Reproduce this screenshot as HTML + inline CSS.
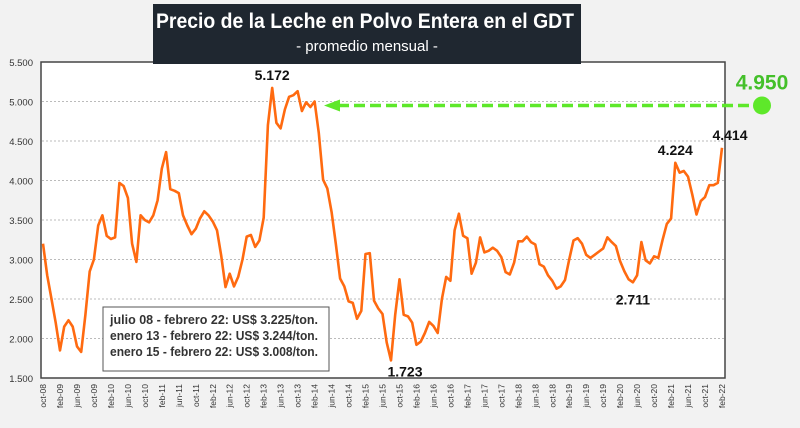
<!DOCTYPE html>
<html><head><meta charset="utf-8"><style>
body{margin:0;background:#f2f2f2;font-family:"Liberation Sans",sans-serif}
svg{display:block}
</style></head><body>
<svg id="c" width="800" height="428" viewBox="0 0 800 428">
<rect x="0" y="0" width="800" height="428" fill="#f2f2f2"/>
<rect x="41" y="62" width="684" height="316" fill="#fff" stroke="#444" stroke-width="1.5"/>
<g id="grid"></g><g id="yt"></g><g id="xt"></g>
<g>
<rect x="153" y="4" width="428" height="60" fill="#1f2730"/>
<text x="156" y="28" textLength="418" lengthAdjust="spacingAndGlyphs" fill="#fff" font-size="21" font-weight="bold">Precio de la Leche en Polvo Entera en el GDT</text>
<text x="367" y="51" text-anchor="middle" fill="#fff" font-size="15">- promedio mensual -</text>
</g>
<path id="ln" fill="none" stroke="#ff6a10" stroke-width="2.6" stroke-linejoin="round"/>
<g id="target"></g>
<g id="ann"></g>
<g>
<rect x="103" y="307" width="226" height="64" fill="#fff" stroke="#555" stroke-width="1"/>
<text x="110" y="324" textLength="208" lengthAdjust="spacingAndGlyphs" font-size="12.5" font-weight="bold" fill="#333">julio 08 - febrero 22: US$ 3.225/ton.</text>
<text x="110" y="340" textLength="208" lengthAdjust="spacingAndGlyphs" font-size="12.5" font-weight="bold" fill="#333">enero 13 - febrero 22: US$ 3.244/ton.</text>
<text x="110" y="356" textLength="208" lengthAdjust="spacingAndGlyphs" font-size="12.5" font-weight="bold" fill="#333">enero 15 - febrero 22: US$ 3.008/ton.</text>
</g>
</svg>
<script>
const prices=[3200,2800,2500,2200,1850,2150,2230,2150,1900,1830,2300,2850,3000,3430,3560,3300,3260,3280,3970,3930,3780,3200,2970,3560,3500,3470,3560,3750,4150,4360,3890,3870,3840,3560,3430,3320,3390,3520,3610,3560,3480,3370,3050,2650,2820,2660,2780,3000,3290,3310,3160,3240,3530,4700,5172,4730,4660,4900,5060,5080,5130,4880,4990,4930,5000,4600,4010,3900,3600,3200,2760,2660,2470,2450,2250,2350,3070,3080,2480,2380,2310,1950,1723,2300,2750,2300,2280,2200,1920,1960,2070,2210,2160,2070,2500,2780,2730,3370,3580,3300,3270,2820,2960,3280,3090,3110,3150,3110,3030,2840,2810,2960,3230,3230,3290,3220,3190,2940,2910,2800,2730,2630,2660,2740,3000,3240,3270,3200,3060,3020,3060,3100,3140,3280,3220,3170,2980,2850,2750,2711,2800,3220,2990,2950,3040,3020,3250,3450,3520,4224,4100,4120,4050,3820,3570,3740,3790,3940,3940,3970,4414];
const yTicks=[1500,2000,2500,3000,3500,4000,4500,5000,5500];
const monthNames=["oct","feb","jun"];
const startYear=8;
const target=[4950];
const annIdx=[54,82,139,149,160];
const ns="http://www.w3.org/2000/svg";
const X=i=>43+i*(722-43)/160;
const Y=v=>378-(v-1500)*316/4000;
function mk(t,a,p,txt){const e=document.createElementNS(ns,t);for(const k in a)e.setAttribute(k,a[k]);if(txt!=null)e.textContent=txt;p.appendChild(e);return e;}
const g=document.getElementById('grid'),yt=document.getElementById('yt'),xt=document.getElementById('xt');
yTicks.forEach(v=>{
 if(v>1500&&v<5500){const l=mk('line',{x1:42,x2:724,y1:Y(v),y2:Y(v),stroke:'#bbb','stroke-dasharray':'2,2'},g);
 
 }
 const t=mk('text',{x:33,y:Y(v)+4,'text-anchor':'end','font-size':'9.5',fill:'#333'},yt,(v/1000).toFixed(3));
 
 
});
for(let i=0;i<prices.length;i+=4){
 const m=(i/4)%3;const yr=startYear+Math.floor((i+9)/12);
 const lab=monthNames[m]+'-'+String(yr).padStart(2,'0');
 const x=X(i);
 const t=mk('text',{x:0,y:0,transform:`translate(${x+3},384) rotate(-90)`,'text-anchor':'end','font-size':'8.5',fill:'#333'},xt,lab);
 
 
}
document.getElementById('ln').setAttribute('d',prices.map((v,i)=>(i?'L':'M')+X(i).toFixed(1)+','+Y(v).toFixed(1)).join(''));
const tg=document.getElementById('target');
const ty=Y(target[0]);
const tl=mk('line',{x1:338,x2:755,y1:ty,y2:ty,stroke:'#5ee82a','stroke-width':3.5,'stroke-dasharray':'11,5'},tg);


const ar=mk('polygon',{points:`324,${ty} 340,${ty-6} 340,${ty+6}`,fill:'#5ee82a'},tg);


const cc=mk('circle',{cx:762,cy:ty,r:9,fill:'#5ee82a'},tg);


const tt=mk('text',{x:762,y:ty-16,'text-anchor':'middle','font-size':'21','font-weight':'bold',fill:'#44c02a'},tg,(target[0]/1000).toFixed(3));


const an=document.getElementById('ann');
annIdx.forEach(i=>{
 const v=prices[i];
 let x=X(i),y=Y(v)-8;
 if(i===82){x=X(i)+14;y=Y(v)+16;}
 if(i===139){y=Y(v)+22;}
 if(i===160){x=X(i)+8;}
 const t=mk('text',{x:x,y:y,'text-anchor':'middle','font-size':'14','font-weight':'bold',fill:'#111'},an,(v/1000).toFixed(3));
 
 
});
</script>
</body></html>
